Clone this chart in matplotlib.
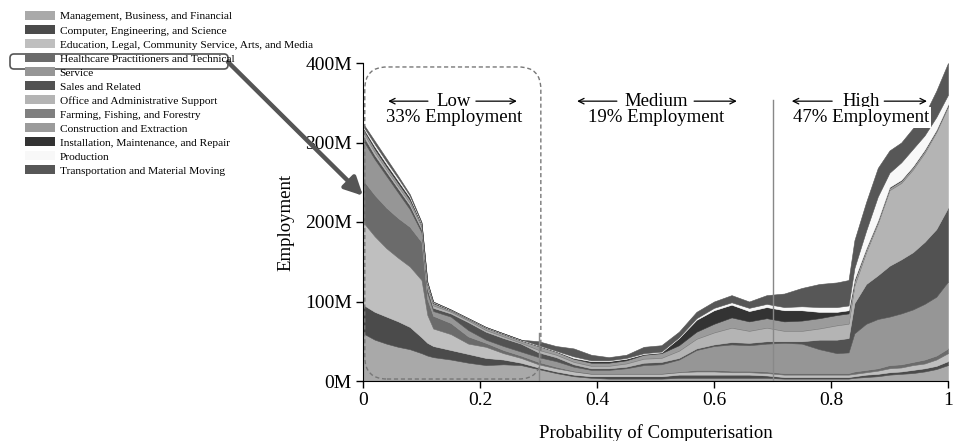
import matplotlib
matplotlib.use("Agg")
import matplotlib.pyplot as plt
from matplotlib.patches import FancyBboxPatch, Patch

plt.rcParams['font.family'] = ['Liberation Serif', 'DejaVu Serif']

# probability of computerisation (x) and employment per group (millions)
prob = [0.00, 0.02, 0.04, 0.06, 0.08, 0.10, 0.11, 0.12, 0.15, 0.18, 0.21, 0.24, 0.27, 0.30,
        0.33, 0.36, 0.39, 0.42, 0.45, 0.48, 0.51, 0.54, 0.57, 0.60, 0.63, 0.66, 0.69, 0.72,
        0.75, 0.78, 0.81, 0.83, 0.84, 0.86, 0.88, 0.90, 0.92, 0.94, 0.96, 0.98, 1.00]

management = [60, 52, 47, 43, 40, 35, 32, 30, 27, 23, 20, 21, 20, 15, 10, 6, 4, 3, 3, 3, 3,
              4, 4, 4, 4, 4, 4, 3, 3, 3, 3, 3, 4, 5, 6, 8, 9, 10, 12, 15, 20]
computer = [36, 35, 34, 32, 28, 20, 16, 14, 12, 11, 9, 6, 3, 2, 2, 2, 2, 3, 3, 3, 3,
            4, 4, 4, 4, 4, 3, 2, 2, 2, 2, 2, 2, 3, 3, 3, 3, 4, 4, 4, 5]
education = [104, 95, 86, 80, 76, 72, 35, 22, 20, 13, 14, 8, 6, 4, 4, 4, 3, 3, 3, 3, 3,
             3, 4, 4, 3, 3, 3, 3, 3, 3, 3, 3, 3, 3, 4, 5, 5, 6, 6, 8, 10]
healthcare = [53, 52, 51, 50, 50, 48, 20, 16, 14, 9, 5, 4, 3, 3, 2, 1, 1, 1, 1, 1, 1,
              1, 2, 2, 2, 2, 2, 2, 2, 2, 2, 2, 3, 3, 3, 4, 4, 4, 5, 5, 6]
service = [50, 45, 40, 32, 22, 12, 8, 6, 8, 8, 4, 5, 5, 6, 7, 5, 4, 4, 6, 10, 11,
           15, 25, 30, 33, 32, 35, 38, 37, 30, 25, 26, 48, 58, 62, 61, 64, 66, 70, 74, 84]
sales = [6, 5, 5, 5, 5, 4, 5, 4, 4, 10, 10, 10, 10, 6, 5, 3, 2, 2, 2, 3, 3,
         2, 2, 2, 3, 3, 3, 2, 3, 12, 17, 18, 38, 50, 55, 64, 68, 72, 78, 85, 93]
office = [4, 4, 3, 3, 3, 3, 3, 3, 2, 2, 2, 2, 1, 3, 3, 3, 3, 3, 4, 5, 5,
          9, 12, 15, 18, 15, 17, 13, 13, 14, 18, 18, 22, 40, 65, 95, 96, 104, 112, 122, 127]
farming = [1, 1, 1, 1, 1, 1, 1, 1, 1, 1, 1, 1, 1, 1, 1, 1, 1, 1, 1, 1, 1,
           1, 1, 1, 1, 1, 1, 1, 1, 1, 1, 1, 1, 1, 1, 1, 1, 1, 1, 1, 1]
construction = [3, 3, 3, 3, 3, 2, 2, 2, 1, 1, 2, 2, 2, 4, 3, 3, 3, 3, 3, 4, 5,
                6, 8, 10, 12, 11, 11, 11, 12, 12, 12, 12, 5, 3, 2, 2, 2, 2, 2, 1, 1]
installation = [2, 3, 3, 3, 3, 1, 1, 1, 0.5, 0.5, 0.5, 0.5, 0.5, 0.5, 0.5, 1, 2, 2, 2, 1, 1,
                9, 15, 17, 16, 13, 14, 14, 13, 8, 4, 4, 2, 1, 1, 1, 1, 1, 1, 1, 1]
production = [2, 3, 3, 3, 2, 1, 1, 0.5, 0.5, 0.5, 0.5, 0.5, 0.5, 0.5, 0.5, 2, 1, 1, 1, 1, 1,
              1, 2, 3, 3, 4, 4, 4, 5, 6, 6, 6, 14, 22, 30, 18, 22, 22, 18, 16, 12]
transport = [3, 4, 4, 3, 2, 1, 1, 0.5, 0, 0, 0, 0, 0, 5, 6, 10, 7, 4, 4, 8, 8,
             7, 8, 8, 9, 8, 11, 17, 23, 29, 31, 32, 35, 36, 36, 28, 25, 26, 26, 33, 40]

categories = ['Management, Business, and Financial',
              'Computer, Engineering, and Science',
              'Education, Legal, Community Service, Arts, and Media',
              'Healthcare Practitioners and Technical',
              'Service',
              'Sales and Related',
              'Office and Administrative Support',
              'Farming, Fishing, and Forestry',
              'Construction and Extraction',
              'Installation, Maintenance, and Repair',
              'Production',
              'Transportation and Material Moving']
colours = ['#a9a9a9', '#4b4b4b', '#bfbfbf', '#6b6b6b', '#969696', '#525252',
           '#b4b4b4', '#7f7f7f', '#9b9b9b', '#333333', '#f8f8f8', '#575757']

series = [management, computer, education, healthcare, service, sales, office,
          farming, construction, installation, production, transport]

fig = plt.figure(figsize=(9.55, 4.41), dpi=100)
ax = fig.add_axes([363/955, 60/441, 585/955, 318/441])

ax.stackplot(prob, *series, colors=colours, edgecolor='face', linewidth=0.4)

ax.set_xlim(0, 1)
ax.set_ylim(0, 400)
ax.set_xticks([0, 0.2, 0.4, 0.6, 0.8, 1])
ax.set_xticklabels(['0', '0.2', '0.4', '0.6', '0.8', '1'])
ax.set_yticks([0, 100, 200, 300, 400])
ax.set_yticklabels(['0M', '100M', '200M', '300M', '400M'])
ax.tick_params(direction='out', length=5, width=1, labelsize=14, pad=3)
for s in ['top', 'right']:
    ax.spines[s].set_visible(False)
ax.set_xlabel('Probability of Computerisation', fontsize=13.5)
ax.set_ylabel('Employment', fontsize=13.5)
ax.xaxis.set_label_coords(0.5, -0.135)
ax.yaxis.set_label_coords(-0.118, 0.5)

# region boundaries
ax.plot([0.3, 0.3], [0, 60], color='#888888', lw=1, zorder=3)
ax.plot([0.7, 0.7], [0, 353], color='#888888', lw=1, zorder=3)
box = FancyBboxPatch((0.003, 2.5), 0.301, 392.5,
                     boxstyle='round,pad=0,rounding_size=0.038',
                     mutation_aspect=736, fill=False, ec='#777777',
                     ls=(0, (3, 2)), lw=1, zorder=4, clip_on=False)
ax.add_patch(box)

# region annotations
regions = [('Low', '33% Employment', 0.155, (0.043, 0.111), (0.193, 0.263)),
           ('Medium', '19% Employment', 0.501, (0.366, 0.434), (0.566, 0.639)),
           ('High', '47% Employment', 0.851, (0.733, 0.802), (0.891, 0.964))]
for name, share, xc, left, right in regions:
    ax.text(xc, 351, name, ha='center', va='center', fontsize=13.5, zorder=5)
    ax.text(xc, 331, share, ha='center', va='center', fontsize=13.5, zorder=5,
            bbox=dict(fc='white', ec='none', pad=1.5))
    ax.annotate('', xy=(left[0], 352), xytext=(left[1], 352),
                arrowprops=dict(arrowstyle='->', lw=0.9, color='black',
                                shrinkA=0, shrinkB=0), zorder=5)
    ax.annotate('', xy=(right[1], 352), xytext=(right[0], 352),
                arrowprops=dict(arrowstyle='->', lw=0.9, color='black',
                                shrinkA=0, shrinkB=0), zorder=5)

# legend
handles = [Patch(fc=c, ec='none') for c in colours]
fig.legend(handles, categories, loc='upper left', bbox_to_anchor=(25/955, 1 - 11/441),
           frameon=False, fontsize=8.2, handlelength=2.6, handleheight=0.85,
           handletextpad=0.45, labelspacing=0.31, borderpad=0, borderaxespad=0)

# overlay in pixel coordinates for the highlight box and arrow
ov = fig.add_axes([0, 0, 1, 1])
ov.set_xlim(0, 955)
ov.set_ylim(441, 0)
ov.axis('off')
ov.patch.set_alpha(0)
hl = FancyBboxPatch((10, 54), 218, 15, boxstyle='round,pad=0,rounding_size=4',
                    fill=False, ec='#555555', lw=1.2)
ov.add_patch(hl)
ov.annotate('', xy=(0.0, 233), xycoords=ax.transData, xytext=(228, 62), textcoords='data',
            arrowprops=dict(arrowstyle='-|>,head_length=0.9,head_width=0.45', lw=3.2,
                            color='#555555', shrinkA=0, shrinkB=0, mutation_scale=12),
            annotation_clip=False)

fig.savefig('out.png', dpi=100)
